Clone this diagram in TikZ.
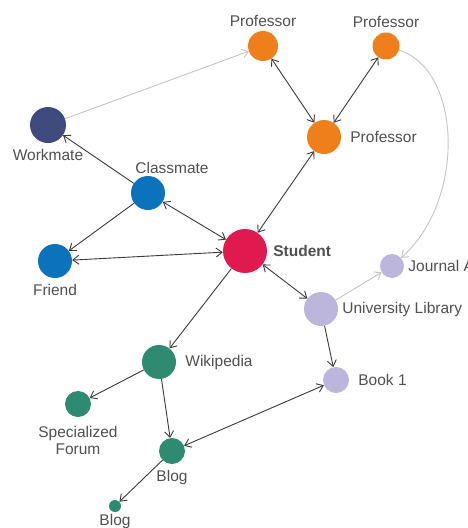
\documentclass[tikz,border=0pt]{standalone}
\usepackage{fontspec}
\setmainfont{Liberation Sans}
\usetikzlibrary{arrows.meta}
\definecolor{proforange}{HTML}{EE7F1A}
\definecolor{worknavy}{HTML}{3F4B7D}
\definecolor{friendblue}{HTML}{0B73BC}
\definecolor{studentred}{HTML}{E01A4F}
\definecolor{liblilac}{HTML}{BCB6DD}
\definecolor{webteal}{HTML}{2E8B72}
\definecolor{txtgray}{HTML}{505050}
\definecolor{linkgray}{HTML}{3A3A3A}
\definecolor{faintgray}{HTML}{C4C4C4}
\begin{document}
\begin{tikzpicture}[x=1pt,y=-1pt,
  every label/.style={text=txtgray,inner sep=1pt,font=\fontsize{15.5}{17}\selectfont},
  label distance=5pt,
  dot/.style={circle,inner sep=0pt,minimum size=#1},
  link/.style={draw=linkgray,line width=0.9pt,-{Straight Barb[length=6pt,width=9pt]}},
  twolink/.style={link,{Straight Barb[length=6pt,width=9pt]}-{Straight Barb[length=6pt,width=9pt]}},
  faintlink/.style={draw=faintgray,line width=0.9pt,-{Straight Barb[length=6pt,width=9pt]}}]
\useasboundingbox[fill=white] (0,0) rectangle (468,528);
% people
\node[dot=30pt,fill=proforange,label={[label distance=3pt]above:Professor}] (P_tl) at (263,46) {};
\node[dot=27pt,fill=proforange,label={[label distance=3pt]above:Professor}] (P_tr) at (386,46) {};
\node[dot=34pt,fill=proforange,label={[label distance=8pt]right:Professor}] (P_mid) at (324,137) {};
\node[dot=36pt,fill=worknavy,label=below:Workmate] (W) at (48,125) {};
\node[dot=34pt,fill=friendblue,label={[xshift=24pt,yshift=-4pt]above:Classmate}] (C) at (148,193) {};
\node[dot=34pt,fill=friendblue,label=below:Friend] (F) at (55,261) {};
\node[dot=44pt,fill=studentred,label={[font=\fontsize{15.5}{17}\selectfont\bfseries]right:Student}] (S) at (245,251) {};
% library
\node[dot=24pt,fill=liblilac,label={[label distance=3pt]right:Journal A}] (J) at (392,266) {};
\node[dot=34pt,fill=liblilac,label={[label distance=3pt]right:University Library}] (U) at (321,309) {};
\node[dot=26pt,fill=liblilac,label={[label distance=8pt]right:Book 1}] (B1) at (336,380) {};
% web
\node[dot=34pt,fill=webteal,label={[label distance=8pt]right:Wikipedia}] (Wk) at (159,362) {};
\node[dot=26pt,fill=webteal,label={[align=center,text depth=0pt,label distance=8pt]below:Specialized\\Forum}] (SF) at (78,404) {};
\node[dot=26pt,fill=webteal,label=below:Blog] (Bl) at (172,451) {};
\node[dot=12pt,fill=webteal,label={[label distance=1pt]below:Blog}] (Bs) at (115,506) {};
% connectors
\draw[faintlink] (W) -- (P_tl);
\draw[faintlink] (P_tr) .. controls (462,70) and (466,200) .. (J);
\draw[faintlink] (U) -- (J);
\draw[link] (C) -- (W);
\draw[link] (C) -- (F);
\draw[twolink] (P_tl) -- (P_mid);
\draw[twolink] (P_tr) -- (P_mid);
\draw[twolink] (P_mid) -- (S);
\draw[twolink] (C) -- (S);
\draw[twolink] (F) -- (S);
\draw[twolink] (S) -- (U);
\draw[link] (S) -- (Wk);
\draw[link] (U) -- (B1);
\draw[link] (Wk) -- (SF);
\draw[link] (Wk) -- (Bl);
\draw[twolink] (Bl) -- (B1);
\draw[link] (Bl) -- (Bs);
\end{tikzpicture}
\end{document}
